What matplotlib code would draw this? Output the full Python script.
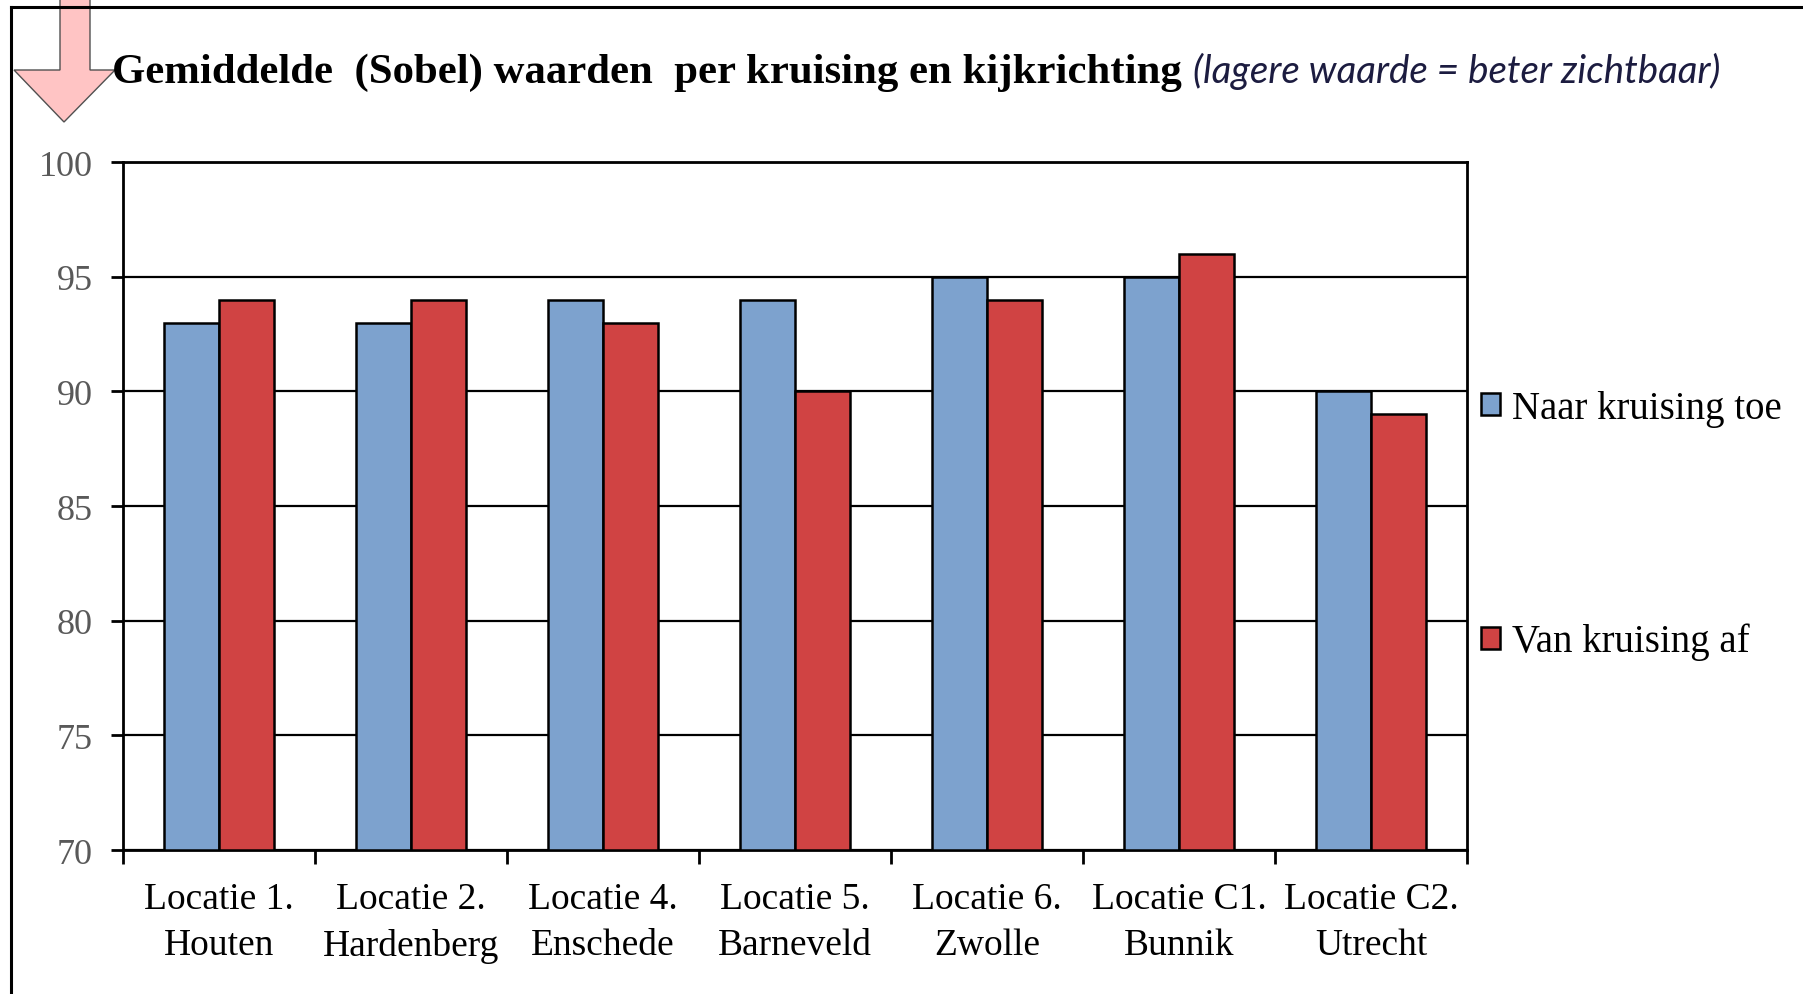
import numpy as np
import matplotlib
matplotlib.use('Agg')
import matplotlib.pyplot as plt
from matplotlib.patches import Polygon, Patch
from matplotlib.lines import Line2D

# data
locaties = ['Locatie 1.\nHouten', 'Locatie 2.\nHardenberg', 'Locatie 4.\nEnschede',
            'Locatie 5.\nBarneveld', 'Locatie 6.\nZwolle', 'Locatie C1.\nBunnik',
            'Locatie C2.\nUtrecht']
naar_kruising = [93, 93, 94, 94, 95, 95, 90]
van_kruising = [94, 94, 93, 90, 94, 96, 89]
series_names = ['Naar kruising toe', 'Van kruising af']
y_ticks = [70, 75, 80, 85, 90, 95, 100]

BLUE = '#7DA2CE'
RED = '#D04343'
SERIF = 'Liberation Serif'

W, H = 1803, 995
fig = plt.figure(figsize=(W / 100, H / 100), dpi=100)

ax = fig.add_axes([123 / W, 1 - 851 / H, (1467 - 123) / W, (851 - 163) / H])

x = np.arange(len(locaties))
bw = 1 / 3.5  # excel gap width 150%
ax.bar(x - bw / 2, [v - 70 for v in naar_kruising], bw, bottom=70, color=BLUE,
       edgecolor='black', linewidth=1.8, zorder=3)
ax.bar(x + bw / 2, [v - 70 for v in van_kruising], bw, bottom=70, color=RED,
       edgecolor='black', linewidth=1.8, zorder=3)

ax.set_xlim(-0.5, len(locaties) - 0.5)
ax.set_ylim(70, 100)
ax.set_yticks(y_ticks)
ax.set_yticklabels([str(t) for t in y_ticks], fontfamily=SERIF, fontsize=26, color='#595959')
ax.tick_params(axis='y', direction='out', length=9, width=2, pad=13, color='black')

ax.set_xticks(x)
ax.set_xticklabels(locaties, fontfamily=SERIF, fontsize=27, linespacing=1.42)
ax.tick_params(axis='x', which='major', length=0, pad=23)
ax.set_xticks(np.arange(-0.5, len(locaties)), minor=True)
ax.tick_params(axis='x', which='minor', direction='out', length=10, width=2, color='black')

ax.yaxis.grid(True, color='black', linewidth=1.6, zorder=0)
ax.set_axisbelow(True)
for s in ax.spines.values():
    s.set_linewidth(2)
    s.set_color('black')

# legend
handles = [Patch(facecolor=BLUE, edgecolor='black', linewidth=1.8),
           Patch(facecolor=RED, edgecolor='black', linewidth=1.8)]
fig.legend(handles, series_names, loc='center left', bbox_to_anchor=(1481 / W, 1 - 526 / H),
           frameon=False, prop={'family': SERIF, 'size': 28}, handlelength=0.5,
           handleheight=0.5, handletextpad=0.3, labelspacing=5.05, borderpad=0,
           borderaxespad=0)

# outer frame (left and top only visible)
fig.add_artist(Line2D([11 / W, 11 / W], [0, 1 - 8 / H], color='black', linewidth=2.2))
fig.add_artist(Line2D([11 / W, 1], [1 - 8 / H, 1 - 8 / H], color='black', linewidth=2.2))

# pink arrow
pts = [(60, 0), (90, 0), (90, 71), (115, 71), (64, 123), (14, 71), (60, 71)]
fig.add_artist(Polygon([(px / W, 1 - py / H) for px, py in pts], closed=True,
                       facecolor='#FFC4C4', edgecolor='#505050', linewidth=1.0,
                       transform=fig.transFigure))

# title + subtitle, fitted to widths in the reference
renderer = fig.canvas.get_renderer()


def fit_text(txt, x0, y0, width_px, **kw):
    t = fig.text(x0 / W, 1 - y0 / H, txt, va='baseline', ha='left', **kw)
    w = t.get_window_extent(renderer).width
    t.set_fontsize(t.get_fontsize() * width_px / w)
    return t


fit_text('Gemiddelde  (Sobel) waarden  per kruising en kijkrichting', 112, 83, 1067,
         fontfamily=SERIF, fontweight='bold', fontsize=30)
fit_text('(lagere waarde = beter zichtbaar)', 1193, 83, 528,
         fontfamily='Lato', fontstyle='italic', fontsize=24, color='#1c1c40')

fig.savefig('out.png', dpi=100)
